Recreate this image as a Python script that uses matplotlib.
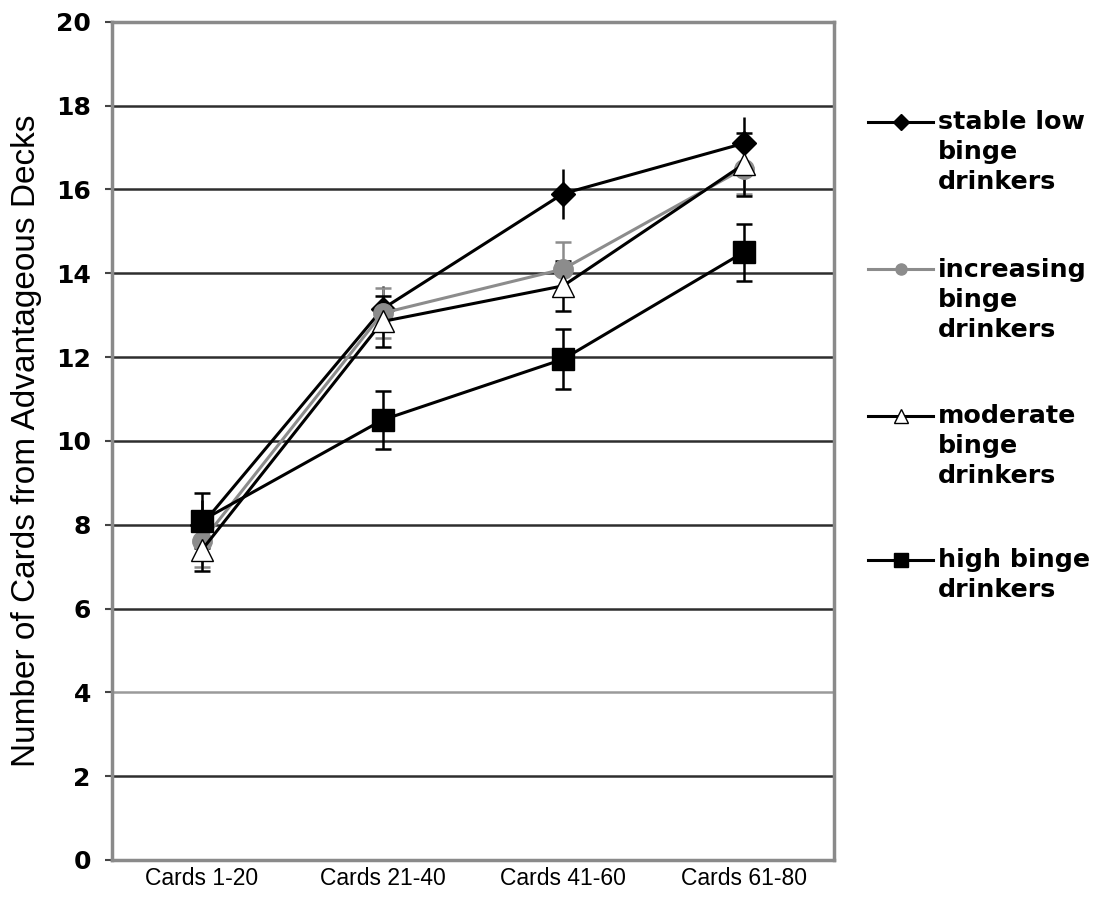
import numpy as np
import matplotlib.pyplot as plt
from matplotlib.lines import Line2D

# card blocks and group means (+/- SE)
blocks = ["Cards 1-20", "Cards 21-40", "Cards 41-60", "Cards 61-80"]

stable_low = [8.0, 13.15, 15.9, 17.1]
stable_low_err = [0.6, 0.55, 0.6, 0.62]

increasing = [7.6, 13.05, 14.1, 16.5]
increasing_err = [0.6, 0.6, 0.65, 0.6]

moderate = [7.4, 12.85, 13.7, 16.6]
moderate_err = [0.5, 0.6, 0.6, 0.75]

high = [8.1, 10.5, 11.95, 14.5]
high_err = [0.65, 0.7, 0.72, 0.68]

labels = ["stable low\nbinge\ndrinkers", "increasing\nbinge\ndrinkers",
          "moderate\nbinge\ndrinkers", "high binge\ndrinkers"]

# (values, errors, caps, style)
series = [
    (stable_low, stable_low_err, 0, dict(color="black", marker="D", ms=12.5, mfc="black", mec="black")),
    (increasing, increasing_err, 5.5, dict(color="#8c8c8c", marker="o", ms=14, mfc="#8c8c8c", mec="#8c8c8c")),
    (moderate, moderate_err, 5.5, dict(color="black", marker="^", ms=15.5, mfc="white", mec="black")),
    (high, high_err, 5.5, dict(color="black", marker="s", ms=16.5, mfc="black", mec="black")),
]
# smaller markers for the key on the right
key_ms = [8, 8, 10, 10]

fig = plt.figure(figsize=(11.06, 9.10), dpi=100)
ax = fig.add_axes([0.101, 0.055, 0.653, 0.921])

x = np.arange(len(blocks)) + 0.5
for vals, err, cap, st in series:
    ax.errorbar(x, vals, yerr=err, lw=2.2, capsize=cap, elinewidth=1.8,
                capthick=1.8, ecolor=st["color"], **st)

ax.set_xlim(0, 4)
ax.set_ylim(0, 20)
ax.set_yticks(np.arange(0, 21, 2))
ax.set_xticks(x)
ax.set_xticklabels(blocks, fontsize=16.5, family="Liberation Sans")
ax.tick_params(axis="x", length=0, pad=5)
ax.tick_params(axis="y", length=5, width=1.5, color="#444", pad=10)
for t in ax.get_yticklabels():
    t.set_fontsize(18)
    t.set_fontweight("bold")
    t.set_family("DejaVu Sans")

ax.yaxis.grid(True, color="#2e2e2e", lw=1.8)
ax.get_ygridlines()[2].set_color("#9a9a9a")
ax.set_axisbelow(True)
for s in ax.spines.values():
    s.set_color("#8a8a8a")
    s.set_linewidth(2.5)

ax.set_ylabel("Number of Cards from Advantageous Decks", fontsize=24,
              family="Liberation Sans", labelpad=10)

# key drawn at the right of the plot
key_y = [0.866, 0.704, 0.543, 0.385]
for (vals, err, cap, st), lab, ky, kms in zip(series, labels, key_y, key_ms):
    st2 = dict(st)
    st2["ms"] = kms
    fig.add_artist(Line2D([0.785, 0.8145, 0.844], [ky, ky, ky], lw=2.2,
                          transform=fig.transFigure, markevery=[1], **st2))
    fig.text(0.848, ky + 0.013, lab, fontsize=18.3, fontweight="bold",
             family="DejaVu Sans", va="top", ha="left", linespacing=1.32)

fig.savefig("out.png", dpi=100)
